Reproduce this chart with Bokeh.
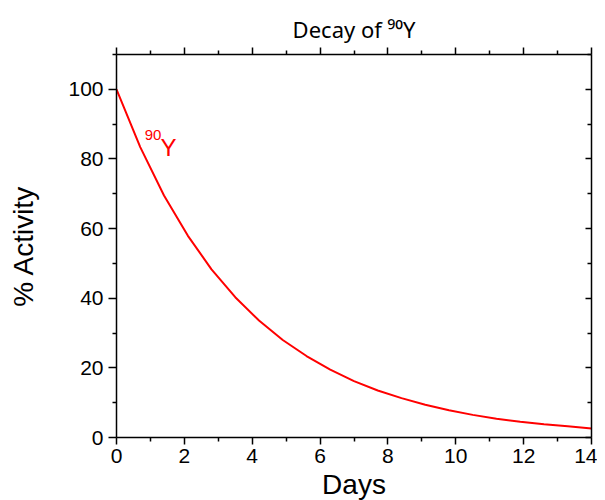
from bokeh.plotting import figure
from bokeh.models import Range1d, LinearAxis, Label, FixedTicker, Title
from bokeh.embed import file_html
from bokeh.resources import INLINE

# ---- data ----
days = [0.0, 0.7, 1.4, 2.1, 2.8, 3.5, 4.2, 4.9, 5.6, 6.3, 7.0,
        7.7, 8.4, 9.1, 9.8, 10.5, 11.2, 11.9, 12.6, 13.3, 14.0]
activity = [100.0, 83.4, 69.5, 58.0, 48.3, 40.3, 33.6, 28.0, 23.4, 19.5, 16.2,
            13.5, 11.3, 9.4, 7.8, 6.5, 5.4, 4.5, 3.8, 3.2, 2.6]
x_ticks = [0, 2, 4, 6, 8, 10, 12, 14]
x_minor = [1, 3, 5, 7, 9, 11, 13]
y_ticks = [0, 20, 40, 60, 80, 100]
y_minor = [10, 30, 50, 70, 90, 110]
title_text = "Decay of \u2079\u2070Y"
isotope_mass = "90"
isotope_symbol = "Y"

FONT = "Liberation Sans"

p = figure(frame_width=475, frame_height=383,
           x_range=Range1d(0, 14), y_range=Range1d(0, 110),
           output_backend="svg", toolbar_location=None,
           min_border_left=116, min_border_top=54,
           min_border_right=6, min_border_bottom=63,
           x_axis_label="Days", y_axis_label="% Activity")
p.outline_line_color = None
p.xgrid.visible = False
p.ygrid.visible = False
p.background_fill_color = "white"
p.border_fill_color = "white"

def style(ax, ticks, minor, labels=True, inside=False):
    ax.ticker = FixedTicker(ticks=ticks, minor_ticks=minor)
    ax.axis_line_color = "black"
    ax.axis_line_width = 1.5
    ax.major_tick_line_color = "black"
    ax.major_tick_line_width = 1.5
    ax.minor_tick_line_color = "black"
    ax.minor_tick_line_width = 1.5
    if inside:
        ax.major_tick_in = 6
        ax.major_tick_out = 0
        ax.minor_tick_in = 4
        ax.minor_tick_out = 0
    else:
        ax.major_tick_in = 0
        ax.major_tick_out = 7
        ax.minor_tick_in = 0
        ax.minor_tick_out = 4
    if labels:
        ax.major_label_text_font = FONT
        ax.major_label_text_font_size = "21px"
        ax.major_label_text_color = "black"
        ax.axis_label_text_font = FONT
        ax.axis_label_text_font_size = "28px"
        ax.axis_label_text_font_style = "normal"
        ax.axis_label_text_color = "black"
    else:
        ax.major_label_text_color = None
        ax.major_label_text_font_size = "1px"
        ax.major_label_standoff = 0

xa = p.xaxis[0]
style(xa, x_ticks, x_minor)
xa.major_label_standoff = 4
xa.axis_label_standoff = 3

ya = p.yaxis[0]
style(ya, y_ticks, y_minor)
ya.major_tick_out = 8
ya.major_label_standoff = 5
ya.axis_label_standoff = 26

top = LinearAxis()
style(top, x_ticks, x_minor, labels=False)
p.add_layout(top, "above")

right = LinearAxis()
style(right, y_ticks, y_minor, labels=False, inside=True)
p.add_layout(right, "right")

p.line(days, activity, line_color="#ff0000", line_width=2)

# title "Decay of 90Y"
p.add_layout(Title(text=title_text, align="center", text_font="Noto Sans",
                   text_font_size="22px", text_font_style="normal",
                   text_color="black", standoff=8), "above")

# curve label
p.add_layout(Label(x=0.83, y=87.0, text=isotope_mass, text_font=FONT,
                   text_font_size="15px", text_color="#ff0000",
                   text_baseline="alphabetic"))
p.add_layout(Label(x=1.30, y=83.2, text=isotope_symbol, text_font=FONT,
                   text_font_size="24px", text_color="#ff0000",
                   text_baseline="alphabetic"))

open("out.html", "w").write(file_html(p, INLINE))
